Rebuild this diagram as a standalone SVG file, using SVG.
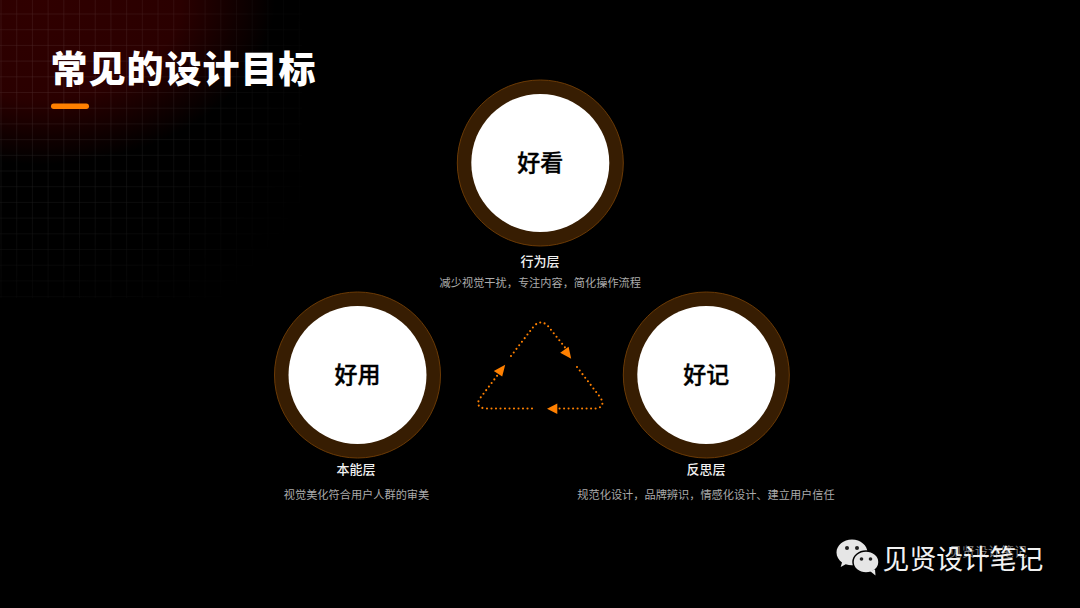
<svg xmlns="http://www.w3.org/2000/svg" width="1080" height="608" viewBox="0 0 1080 608">
<style>
text{font-family:"Noto Sans CJK SC","Noto Sans",sans-serif;text-anchor:middle}
.ring{fill:#371d02;stroke:#6b3a05;stroke-width:1}
.core{fill:#fff}
.name{font-size:23px;font-weight:500;fill:#000;stroke:#000;stroke-width:.35px}
.layer{font-size:13px;font-weight:500;fill:#f0f0f0}
.desc{font-size:11.200px;fill:#ababab}
.dot{fill:none;stroke:#ff8000;stroke-width:2.100;stroke-linecap:round;stroke-dasharray:0 4.500}
.head{fill:#ff8000}
</style>
<defs>
<radialGradient id="glow" gradientUnits="userSpaceOnUse" cx="40" cy="0" r="235" gradientTransform="scale(1 .7)">
<stop offset="0" stop-color="#300000"/><stop offset=".6" stop-color="#2a0000"/><stop offset="1" stop-color="#000"/>
</radialGradient>
<radialGradient id="fade" gradientUnits="userSpaceOnUse" cx="50" cy="70" r="290">
<stop offset="0" stop-color="#fff"/><stop offset=".5" stop-color="#aaa"/><stop offset=".85" stop-color="#333"/><stop offset="1" stop-color="#000"/>
</radialGradient>
<pattern id="grid" patternUnits="userSpaceOnUse" x="1.500" y="14.500" width="15.700" height="15.700">
<path d="M15.700 0V15.700M0 15.700H15.700" fill="none" stroke="#fff" stroke-opacity=".14" stroke-width="1"/>
</pattern>
<mask id="gm"><rect x="0" y="0" width="302" height="298" fill="url(#fade)"/></mask>
</defs>
<rect width="1080" height="608" fill="#000"/>
<rect width="340" height="240" fill="url(#glow)"/>
<rect width="302" height="298" fill="url(#grid)" mask="url(#gm)"/>
<g id="title">
<text x="183.500" y="83" style="font-size:37px;font-weight:900;fill:#fff;letter-spacing:1px">常见的设计目标</text>
<rect x="51" y="103.500" width="38" height="5.500" rx="2.750" fill="#ff8000"/>
</g>
<g id="connectors">
<path class="dot" d="M511 356L534 326Q541 319 548 326L567 350"/>
<path class="dot" d="M577 367L600 397Q606 406 597 408.500L553 408.500"/>
<path class="dot" d="M532 408.500H485Q475 407 479.500 399L503 368"/>
<polygon class="head" points="560.200,352.800 568.600,346.800 571.200,358.800"/>
<polygon class="head" points="547,408.700 557.300,403.400 557.300,414"/>
<polygon class="head" points="493.800,371 505.200,364.800 502.200,376.500"/>
</g>
<g id="node-top">
<circle class="ring" cx="540.300" cy="163" r="83"/><circle class="core" cx="540.300" cy="163" r="69"/>
<text class="name" x="540.300" y="171">好看</text>
<text class="layer" x="540" y="266">行为层</text>
<text class="desc" x="540.300" y="287">减少视觉干扰，专注内容，简化操作流程</text>
</g>
<g id="node-left">
<circle class="ring" cx="357.500" cy="375" r="83"/><circle class="core" cx="357.500" cy="375" r="69"/>
<text class="name" x="357.500" y="383">好用</text>
<text class="layer" x="356" y="474">本能层</text>
<text class="desc" x="356.500" y="499">视觉美化符合用户人群的审美</text>
</g>
<g id="node-right">
<circle class="ring" cx="706.300" cy="375" r="83"/><circle class="core" cx="706.300" cy="375" r="69"/>
<text class="name" x="706.300" y="383">好记</text>
<text class="layer" x="706" y="474">反思层</text>
<text class="desc" x="706" y="499">规范化设计，品牌辨识，情感化设计、建立用户信任</text>
</g>
<g id="watermark">
<text x="988" y="556" style="font-size:13px;fill:#777">见贤设计笔记</text>
<text x="963" y="569" style="font-size:26.800px;fill:#f2f2f2">见贤设计笔记</text>
<path d="M852 539.500c-8.500 0-15.500 5.800-15.500 13 0 4 2.200 7.500 5.500 10l-1.300 4.500 5-2.800c2 .7 4.200 1 6.300 1 8.500 0 15.500-5.800 15.500-12.700s-7-13-15.500-13z" fill="#e6e6e6"/>
<ellipse cx="866" cy="562" rx="13" ry="11" fill="#e6e6e6" stroke="#000" stroke-width="1.500"/>
<path d="M870 571l5.500 4.500-.5-6z" fill="#e6e6e6"/>
<circle cx="847" cy="548" r="2" fill="#222"/><circle cx="857" cy="548" r="2" fill="#222"/>
<circle cx="861.500" cy="559" r="1.800" fill="#222"/><circle cx="870.500" cy="559" r="1.800" fill="#222"/>
</g>
</svg>
